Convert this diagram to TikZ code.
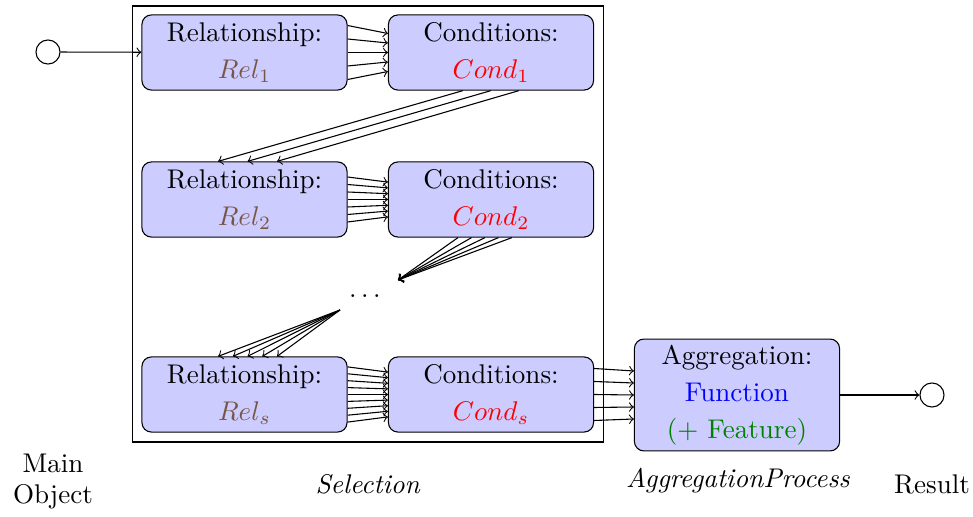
\documentclass[tikz,border=0pt]{standalone}
\usetikzlibrary{calc}
\definecolor{relc}{RGB}{120,86,70}
\definecolor{featc}{RGB}{0,128,0}
\begin{document}
\begin{tikzpicture}[x=0.37pt,y=-0.37pt,
  box/.style={draw, rounded corners=3.5pt, fill=blue!20, minimum width=75.9pt,
    minimum height=27.8pt, align=center, inner sep=2pt,
    font=\fontsize{10}{13.7}\selectfont},
  endpt/.style={draw, circle, minimum size=8.9pt, inner sep=0pt},
  caption/.style={align=center, font=\fontsize{10}{11.5}\selectfont},
  flow/.style={->}]
\useasboundingbox (0,0) rectangle (973,517);

% selection frame
\node[draw, minimum width=174.6pt, minimum height=161.3pt, inner sep=0pt] (sel) at (368,224) {};

% relationship / condition steps
\node[box] (rel1)  at (244.5,52.5)  {Relationship:\\ \textcolor{relc}{$Rel_1$}};
\node[box] (cond1) at (491,52.5)    {Conditions:\\ \textcolor{red}{$Cond_1$}};
\node[box] (rel2)  at (244.5,199.5) {Relationship:\\ \textcolor{relc}{$Rel_2$}};
\node[box] (cond2) at (491,199.5)   {Conditions:\\ \textcolor{red}{$Cond_2$}};
\node[box] (rels)  at (244.5,394.5) {Relationship:\\ \textcolor{relc}{$Rel_s$}};
\node[box] (conds) at (491,394.5)   {Conditions:\\ \textcolor{red}{$Cond_s$}};
\node (dots) at (365,296) {$\ldots$};
\coordinate (dotsin)  at (398,280);
\coordinate (dotsout) at (340,310);

% aggregation
\node[box, minimum height=41.4pt] (agg) at (737,395)
  {Aggregation:\\ \textcolor{blue}{Function}\\ \textcolor{featc}{(+ Feature)}};

% end points
\node[endpt] (main) at (48,52) {};
\node[endpt] (res) at (932,395) {};

% captions
\node[caption] (mainlbl) at (53,482) {Main\\Object};
\node[caption] (sellbl) at (368,484) {\textit{Selection}};
\node[caption] (agglbl) at (738,481) {\textit{AggregationProcess}};
\node[caption] (reslbl) at (932,484) {Result};

% connectors
\draw[flow] (main) -- (rel1);
\foreach \i in {-2,...,2}
  \draw[flow] ($(rel1.east)+(0,\i*13.5)$) -- ($(cond1.west)+(0,\i*9.5)$);
\foreach \i in {-1,0,1}
  \draw[flow] ($(cond1.south)+(\i*28,0)$) -- ($(rel2.north)+(3+\i*29.5,0)$);
\foreach \i in {-3,...,3}
  \draw[flow] ($(rel2.east)+(0,\i*7.5)$) -- ($(cond2.west)+(0,\i*5.8)$);
\foreach \i in {-2,...,2}
  \draw[flow] ($(cond2.south)+(-6+\i*13.5,0)$) -- (dotsin);
\foreach \i in {-2,...,2}
  \draw[flow] (dotsout) -- ($(rels.north)+(3+\i*14.75,0)$);
\foreach \i in {-4,...,4}
  \draw[flow] ($(rels.east)+(0,\i*6.9)$) -- ($(conds.west)+(0,\i*5.6)$);
\foreach \i in {-2,...,2}
  \draw[flow] ($(conds.east)+(0,\i*13)$) -- ($(agg.west)+(0,\i*12)$);
\draw[flow] (agg) -- (res);
\end{tikzpicture}
\end{document}
